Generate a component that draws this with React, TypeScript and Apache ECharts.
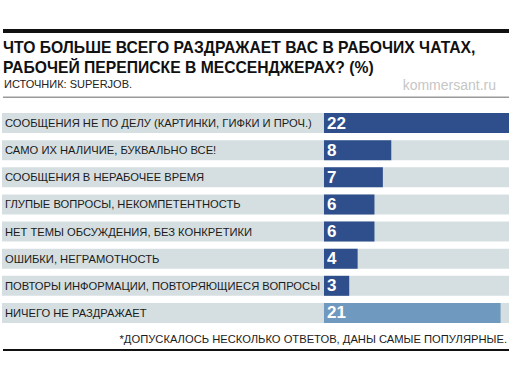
import React, { useEffect, useRef } from "react";
import * as echarts from "echarts";

const categories = [
  "СООБЩЕНИЯ НЕ ПО ДЕЛУ (КАРТИНКИ, ГИФКИ И ПРОЧ.)",
  "САМО ИХ НАЛИЧИЕ, БУКВАЛЬНО ВСЕ!",
  "СООБЩЕНИЯ В НЕРАБОЧЕЕ ВРЕМЯ",
  "ГЛУПЫЕ ВОПРОСЫ, НЕКОМПЕТЕНТНОСТЬ",
  "НЕТ ТЕМЫ ОБСУЖДЕНИЯ, БЕЗ КОНКРЕТИКИ",
  "ОШИБКИ, НЕГРАМОТНОСТЬ",
  "ПОВТОРЫ ИНФОРМАЦИИ, ПОВТОРЯЮЩИЕСЯ ВОПРОСЫ",
  "НИЧЕГО НЕ РАЗДРАЖАЕТ",
];
const values = [22, 8, 7, 6, 6, 4, 3, 21];
const highlighted = ["НИЧЕГО НЕ РАЗДРАЖАЕТ"];

const titleLines = [
  "ЧТО БОЛЬШЕ ВСЕГО РАЗДРАЖАЕТ ВАС В РАБОЧИХ ЧАТАХ,",
  "РАБОЧЕЙ ПЕРЕПИСКЕ В МЕССЕНДЖЕРАХ? (%)",
];
const sourceText = "ИСТОЧНИК: SUPERJOB.";
const brandText = "kommersant.ru";
const footnoteText = "*ДОПУСКАЛОСЬ НЕСКОЛЬКО ОТВЕТОВ, ДАНЫ САМЫЕ ПОПУЛЯРНЫЕ.";

const FONT = "'Liberation Sans', Arial, sans-serif";
const DARK = "#2e4f8c";
const LIGHT = "#7099bf";
const ROW_BG = "#d5dfe1";

export default function App() {
  const ref = useRef<HTMLDivElement>(null);
  useEffect(() => {
    const chart = echarts.init(ref.current!, null, { renderer: "svg" });
    chart.setOption({
      animation: false,
      backgroundColor: "#ffffff",
      grid: { left: 2, right: 3, top: 109.5, bottom: 57.5, containLabel: false },
      xAxis: { type: "value", min: -38.29, max: 22, show: false },
      yAxis: {
        type: "category",
        data: categories,
        inverse: true,
        z: 10,
        axisLine: { show: false },
        axisTick: { show: false },
        splitLine: { show: false },
        axisLabel: {
          inside: true,
          margin: 3,
          color: "#1b1b1b",
          fontSize: 11.2,
          fontFamily: FONT,
        },
      },
      series: [
        {
          type: "bar",
          barWidth: 20,
          showBackground: true,
          backgroundStyle: { color: ROW_BG },
          data: values.map((v, i) => ({
            value: v,
            itemStyle: {
              color: highlighted.includes(categories[i]) ? LIGHT : DARK,
            },
          })),
          label: {
            show: true,
            position: "insideLeft",
            distance: 3,
            color: "#ffffff",
            fontWeight: "bold",
            fontSize: 17,
            fontFamily: FONT,
          },
        },
      ],
      graphic: [
        { type: "rect", shape: { x: 3, y: 29, width: 506, height: 4 }, style: { fill: "#111111" } },
        {
          type: "text",
          x: 3,
          y: 37,
          style: {
            text: titleLines.join("\n"),
            fontSize: 15.7,
            fontWeight: "bold",
            fontFamily: FONT,
            lineHeight: 20,
            fill: "#111111",
          },
        },
        {
          type: "text",
          x: 4,
          y: 78,
          style: { text: sourceText, fontSize: 11, fontFamily: FONT, fill: "#222222" },
        },
        {
          type: "text",
          x: 496,
          y: 78,
          style: { text: brandText, fontSize: 14, fontFamily: FONT, fill: "#c6c6c6", align: "right" },
        },
        { type: "rect", shape: { x: 3, y: 96.5, width: 506, height: 1.5 }, style: { fill: "#9a9a9a" } },
        {
          type: "text",
          x: 507,
          y: 333,
          style: { text: footnoteText, fontSize: 11.2, fontFamily: FONT, fill: "#1b1b1b", align: "right" },
        },
        { type: "rect", shape: { x: 3, y: 349, width: 506, height: 2 }, style: { fill: "#111111" } },
      ],
    });
    return () => chart.dispose();
  }, []);
  return (
    <div
      ref={ref}
      style={{ width: 512, height: 384, position: "absolute", left: 0, top: 0 }}
    />
  );
}
